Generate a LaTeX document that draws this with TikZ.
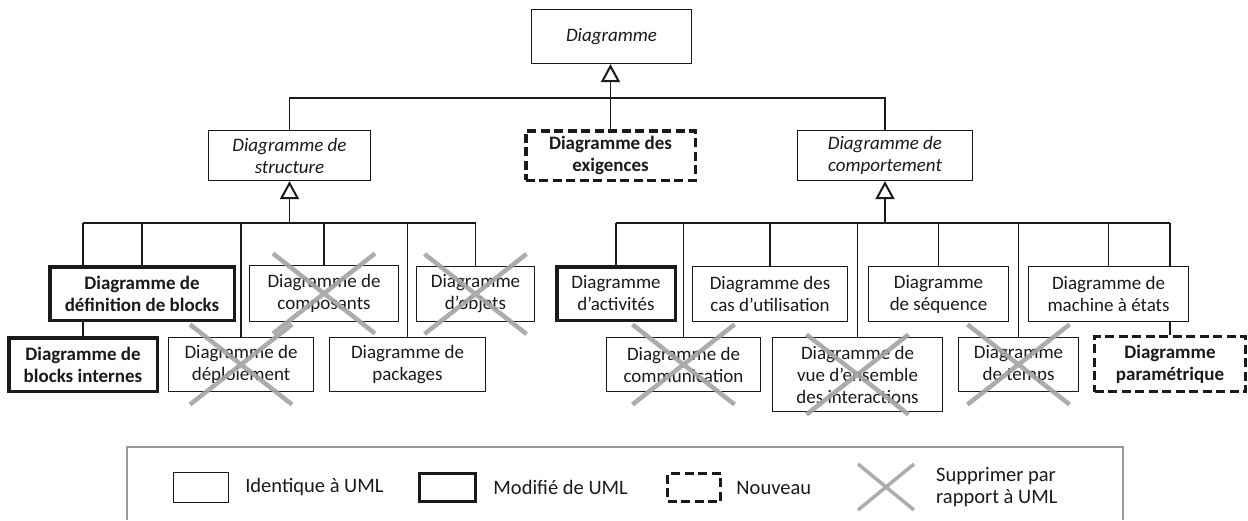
\documentclass[tikz,border=0pt]{standalone}
\usepackage{fontspec}
\setmainfont{Carlito}
\usepackage{xcolor}
\usetikzlibrary{arrows.meta,positioning,backgrounds}
\definecolor{umlink}{HTML}{1A1A1A}
\definecolor{umlgray}{HTML}{A3A3A3}
\definecolor{umlframe}{HTML}{9A9A9A}
\tikzset{
  same/.style={draw=umlink,fill=white,line width=1.2pt,align=center,inner sep=0pt,
    text=umlink,font=\fontsize{19}{22}\selectfont},
  abstr/.style={same,font=\fontsize{19}{22}\selectfont\itshape},
  modif/.style={same,line width=3.5pt},
  newd/.style={same,line width=3.5pt,dash pattern=on 9pt off 4.5pt},
  bftext/.style={font=\fontsize{19}{22}\selectfont\bfseries},
  sz/.style 2 args={minimum width=#1pt,minimum height=#2pt},
  ln/.style={draw=umlink,line width=1.3pt},
  gen/.style={ln,-{Triangle[open,length=18pt,width=19pt,line width=2pt]}},
  crossout/.style={draw=umlgray,line width=4.5pt,opacity=.9},
  lgtext/.style={font=\fontsize{20.5}{22}\selectfont,text=umlink,inner sep=0pt,align=left},
  frame/.style={draw=umlframe,line width=1.2pt},
}

\begin{document}
\begin{tikzpicture}[x=1pt,y=-1pt]
\useasboundingbox (0,0) rectangle (1248,520);
% top level
\node[abstr,sz={160}{54}] (diag) at (611.5,36.5) {Diagramme};
\node[abstr,sz={162}{50}] (struct) at (289.5,155.5) {Diagramme de\\structure};
\node[newd,bftext,sz={169.5}{49.5}] (exig) at (610.5,155.5) {Diagramme des\\exigences};
\node[abstr,sz={175}{50}] (behav) at (885,155.5) {Diagramme de\\comportement};
% structure
\node[modif,bftext,sz={184.5}{53.5}] (defin) at (142,293.5) {Diagramme de\\définition de blocks};
\node[same,sz={149}{56}] (compos) at (324,293.5) {Diagramme de\\composants};
\node[same,sz={118}{55}] (objets) at (475.5,294) {Diagramme\\d’objets};
\node[modif,bftext,sz={148.5}{53.5}] (blkint) at (83,364.5) {Diagramme de\\blocks internes};
\node[same,sz={145}{54}] (deploi) at (241,364.5) {Diagramme de\\déploiement};
\node[same,sz={156}{54}] (packag) at (407.5,364.5) {Diagramme de\\packages};
% comportement
\node[modif,sz={118.5}{53.5}] (activ) at (616,293.5) {Diagramme\\d’activités};
\node[same,sz={155}{55}] (casut) at (770,294) {Diagramme des\\cas d’utilisation};
\node[same,sz={140}{55}] (sequ) at (938.5,294) {Diagramme\\de séquence};
\node[same,sz={160}{55}] (machi) at (1108.5,294) {Diagramme de\\machine à états};
\node[same,sz={154}{54}] (commu) at (683.5,364.5) {Diagramme de\\communication};
\node[same,sz={170}{74}] (vue) at (857.5,374.5) {Diagramme de\\vue d’ensemble\\des interactions};
\node[same,sz={120}{54}] (temps) at (1018.5,364.5) {Diagramme\\de temps};
\node[newd,bftext,sz={151}{55}] (param) at (1170,364) {Diagramme\\paramétrique};
\coordinate (tbar) at (611,98);
\coordinate (sbar) at (289.5,223);
\coordinate (bbar) at (885,223);
\begin{scope}[on background layer]
\draw[gen] (exig.north) -- (exig.north |- diag.south);
\draw[ln] (struct.north) |- (tbar) -| (behav.north);
\draw[gen] (sbar) -- (struct);
\draw[gen] (bbar) -- (behav);
\draw[ln] (blkint.north |- sbar) -- (objets.north |- sbar);
\draw[ln] (activ.north |- bbar) -- (param.north |- bbar);
\foreach \n in {defin,compos,objets,blkint,deploi,packag}
  \draw[ln] (\n.north) -- (\n.north |- sbar);
\foreach \n in {activ,casut,sequ,machi,commu,vue,temps,param}
  \draw[ln] (\n.north) -- (\n.north |- bbar);
\end{scope}
% removed from UML
\foreach \n in {compos,objets,deploi,commu,vue,temps}
  \draw[crossout] ([shift={(-51,-40)}]\n.center) -- ([shift={(51,40)}]\n.center)
    ([shift={(51,-40)}]\n.center) -- ([shift={(-51,40)}]\n.center);
% legend
\draw[frame] (127,520) |- (1123,447) -- (1123,520);
\node[same,sz={55}{30}] (lgsame) at (201,487.5) {};
\node[lgtext,right=16pt of lgsame] (lgsametxt) {Identique à UML};
\node[modif,sz={56}{28}] (lgmod) at (447.5,487.5) {};
\node[lgtext,right=16pt of lgmod] (lgmodtxt) {Modifié de UML};
\node[newd,sz={53}{28}] (lgnew) at (694,487.5) {};
\node[lgtext,right=14pt of lgnew] (lgnewtxt) {Nouveau};
\coordinate (lgdel) at (886,487);
\draw[crossout,line width=3.5pt] ([shift={(-28,-23)}]lgdel) -- ([shift={(28,23)}]lgdel)
  ([shift={(28,-23)}]lgdel) -- ([shift={(-28,23)}]lgdel);
\node[lgtext,right=50pt of lgdel] (lgdeltxt) {Supprimer par\\rapport à UML};
\end{tikzpicture}
\end{document}
